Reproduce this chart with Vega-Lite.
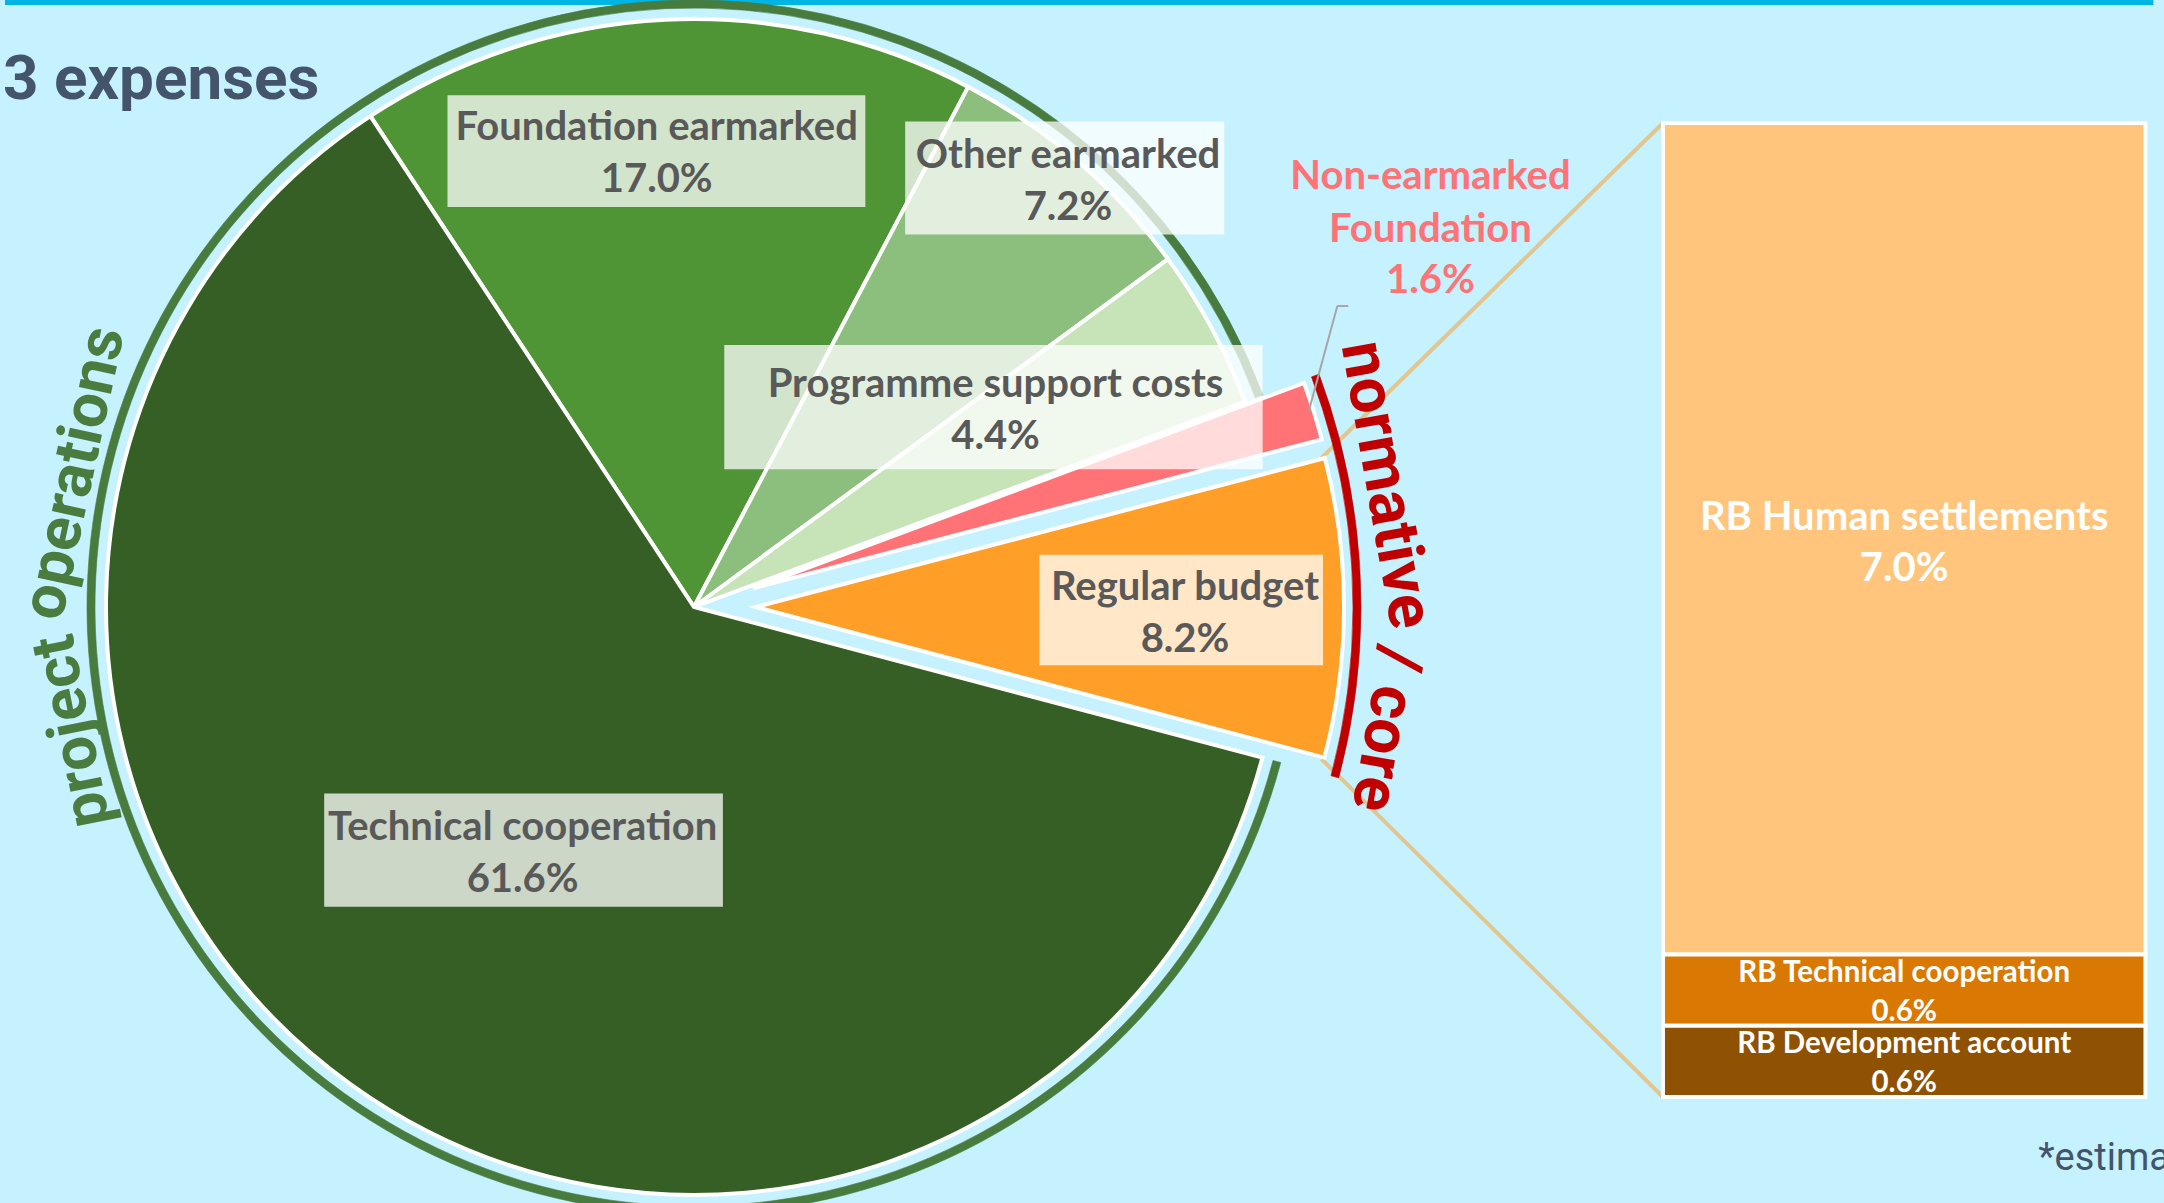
{
  "$schema": "https://vega.github.io/schema/vega-lite/v6.json",
  "width": 1388,
  "height": 1214,
  "autosize": {"type": "none"},
  "padding": {"left": 0, "top": 0, "right": 776, "bottom": -11},
  "background": "#C6F1FE",
  "config": {"view": {"stroke": null}},
  "datasets": {
    "slices": [
      {"category": "Foundation earmarked", "share": 0.170, "ord": 1, "group": "project operations"},
      {"category": "Other earmarked", "share": 0.072, "ord": 2, "group": "project operations"},
      {"category": "Programme support costs", "share": 0.044, "ord": 3, "group": "project operations"},
      {"category": "Non-earmarked Foundation", "share": 0.016, "ord": 4, "group": "normative / core"},
      {"category": "Regular budget", "share": 0.082, "ord": 5, "group": "normative / core"},
      {"category": "Technical cooperation", "share": 0.616, "ord": 6, "group": "project operations"}
    ],
    "rb": [
      {"part": "RB Human settlements", "share": 0.070, "ord": 3},
      {"part": "RB Technical cooperation", "share": 0.006, "ord": 2},
      {"part": "RB Development account", "share": 0.006, "ord": 1}
    ]
  },
  "layer": [
    {"data": {"values": [{}]}, "mark": {"type": "rule", "stroke": "#00B4E4", "strokeWidth": 5},
     "encoding": {"x": {"datum": -3.43621, "type": "quantitative", "scale": {"domain": [-3.43621, -0.58024], "nice": false, "zero": false}, "axis": null}, "x2": {"datum": 1.01646}, "y": {"datum": 0.092145, "type": "quantitative", "scale": {"domain": [-0.0098501, 0.092355], "nice": false, "zero": false}, "axis": null}}},
    {"data": {"values": [{}]}, "mark": {"type": "rule", "stroke": "#E2C690", "strokeWidth": 4},
     "encoding": {"x": {"datum": 0, "type": "quantitative", "axis": null}, "y": {"datum": 0.082, "type": "quantitative", "axis": null}, "x2": {"datum": -0.70782}, "y2": {"datum": 0.053797}}},
    {"data": {"values": [{}]}, "mark": {"type": "rule", "stroke": "#E2C690", "strokeWidth": 4},
     "encoding": {"x": {"datum": 0, "type": "quantitative", "axis": null}, "y": {"datum": 0, "type": "quantitative", "axis": null}, "x2": {"datum": -0.70782}, "y2": {"datum": 0.028456}}},
    {"data": {"name": "slices"}, "mark": {"type": "arc", "radius": 588, "stroke": "white", "strokeWidth": 4},
     "encoding": {
       "theta": {"field": "share", "type": "quantitative", "stack": true, "scale": {"range": [-0.5829, 5.7003]}},
       "order": {"field": "ord", "type": "quantitative"},
       "color": {"field": "category", "type": "nominal", "legend": null, "scale": {"domain": ["Foundation earmarked", "Other earmarked", "Programme support costs", "Non-earmarked Foundation", "Regular budget", "Technical cooperation", "RB Human settlements", "RB Technical cooperation", "RB Development account"], "range": ["#4F9535", "#8CBE7E", "#C6E4B8", "#FF7276", "#FF9F27", "#355F24", "#FFC57C", "#D97904", "#8F5102"]}},
       "opacity": {"condition": {"test": "datum.group === 'normative / core'", "value": 0}, "value": 1}
     }},
    {"data": {"name": "slices"}, "mark": {"type": "arc", "radius": 588, "stroke": "white", "strokeWidth": 4, "xOffset": 62, "yOffset": 0},
     "encoding": {
       "theta": {"field": "share", "type": "quantitative", "stack": true, "scale": {"range": [-0.5829, 5.7003]}},
       "order": {"field": "ord", "type": "quantitative"},
       "color": {"field": "category", "type": "nominal", "legend": null},
       "opacity": {"condition": {"test": "datum.category === 'Regular budget'", "value": 1}, "value": 0}
     }},
    {"data": {"name": "slices"}, "mark": {"type": "arc", "radius": 588, "stroke": "white", "strokeWidth": 4, "xOffset": 59.1, "yOffset": -18.7},
     "encoding": {
       "theta": {"field": "share", "type": "quantitative", "stack": true, "scale": {"range": [-0.5829, 5.7003]}},
       "order": {"field": "ord", "type": "quantitative"},
       "color": {"field": "category", "type": "nominal", "legend": null},
       "opacity": {"condition": {"test": "datum.category === 'Non-earmarked Foundation'", "value": 1}, "value": 0}
     }},
    {"data": {"name": "slices"}, "mark": {"type": "arc", "radius": 607, "radius2": 599, "fill": "#477C3E", "stroke": "#477C3E", "strokeWidth": 0.6},
     "encoding": {
       "theta": {"field": "share", "type": "quantitative", "stack": true, "scale": {"range": [-0.5829, 5.7003]}},
       "order": {"field": "ord", "type": "quantitative"},
       "opacity": {"condition": {"test": "datum.group === 'project operations'", "value": 1}, "value": 0}
     }},
    {"data": {"name": "slices"}, "mark": {"type": "arc", "radius": 667, "radius2": 659, "fill": "#C00000", "stroke": "#C00000", "strokeWidth": 0.6},
     "encoding": {
       "theta": {"field": "share", "type": "quantitative", "stack": true, "scale": {"range": [-0.5829, 5.7003]}},
       "order": {"field": "ord", "type": "quantitative"},
       "opacity": {"condition": {"test": "datum.group === 'normative / core'", "value": 1}, "value": 0}
     }},
    {"data": {"name": "rb"}, "mark": {"type": "bar", "orient": "vertical", "stroke": "white", "strokeWidth": 4},
     "encoding": {
       "x": {"datum": 0, "type": "quantitative", "axis": null}, "x2": {"datum": 1},
       "y": {"field": "share", "type": "quantitative", "stack": "zero", "axis": null},
       "order": {"field": "ord", "type": "quantitative"},
       "color": {"field": "part", "type": "nominal", "legend": null}
     }},
    {"data": {"values": [{}]}, "mark": {"type": "rule", "stroke": "#A6A6A6", "strokeWidth": 2},
     "encoding": {"x": {"datum": -0.73457, "type": "quantitative", "axis": null}, "y": {"datum": 0.057669, "type": "quantitative", "axis": null}, "x2": {"datum": -0.67490}, "y2": {"datum": 0.066593}}},
    {"data": {"values": [{}]}, "mark": {"type": "rule", "stroke": "#A6A6A6", "strokeWidth": 2},
     "encoding": {"x": {"datum": -0.67490, "type": "quantitative", "axis": null}, "x2": {"datum": -0.65226}, "y": {"datum": 0.066593, "type": "quantitative", "axis": null}}},

    {"data": {"values": [{}]}, "mark": {"type": "rect", "fill": "white", "opacity": 0.75},
     "encoding": {"x": {"datum": -2.51914, "type": "quantitative", "axis": null}, "x2": {"datum": -1.65309}, "y": {"datum": 0.084341, "type": "quantitative", "axis": null}, "y2": {"datum": 0.074928}}},
    {"data": {"values": [{}]}, "mark": {"type": "rect", "fill": "white", "opacity": 0.75},
     "encoding": {"x": {"datum": -1.57058, "type": "quantitative", "axis": null}, "x2": {"datum": -0.90905}, "y": {"datum": 0.082135, "type": "quantitative", "axis": null}, "y2": {"datum": 0.072604}}},
    {"data": {"values": [{}]}, "mark": {"type": "rect", "fill": "white", "opacity": 0.75},
     "encoding": {"x": {"datum": -1.94547, "type": "quantitative", "axis": null}, "x2": {"datum": -0.82963}, "y": {"datum": 0.063310, "type": "quantitative", "axis": null}, "y2": {"datum": 0.052854}}},
    {"data": {"values": [{}]}, "mark": {"type": "rect", "fill": "white", "opacity": 0.75},
     "encoding": {"x": {"datum": -1.29239, "type": "quantitative", "axis": null}, "x2": {"datum": -0.70453}, "y": {"datum": 0.045647, "type": "quantitative", "axis": null}, "y2": {"datum": 0.036353}}},
    {"data": {"values": [{}]}, "mark": {"type": "rect", "fill": "white", "opacity": 0.75},
     "encoding": {"x": {"datum": -2.77469, "type": "quantitative", "axis": null}, "x2": {"datum": -1.94835}, "y": {"datum": 0.025551, "type": "quantitative", "axis": null}, "y2": {"datum": 0.016021}}},

    {"data": {"name": "slices"}, "mark": {"type": "text", "radius": 457.5, "dx": -15, "dy": -22, "font": "Lato", "fontWeight": "bold", "fontSize": 40, "fill": "#595959", "align": "center", "baseline": "middle"},
     "encoding": {"theta": {"field": "share", "type": "quantitative", "stack": true}, "order": {"field": "ord", "type": "quantitative"},
       "text": {"condition": {"test": "datum.category === 'Foundation earmarked'", "field": "category", "type": "nominal"}, "value": ""}}},
    {"data": {"name": "slices"}, "mark": {"type": "text", "radius": 457.5, "dx": -15, "dy": 30, "font": "Lato", "fontWeight": "bold", "fontSize": 40, "fill": "#595959", "align": "center", "baseline": "middle"},
     "encoding": {"theta": {"field": "share", "type": "quantitative", "stack": true}, "order": {"field": "ord", "type": "quantitative"},
       "text": {"condition": {"test": "datum.category === 'Foundation earmarked'", "field": "share", "type": "quantitative", "format": ".1%"}, "value": ""}}},
    {"data": {"name": "slices"}, "mark": {"type": "text", "radius": 569, "dx": 2.5, "dy": -20, "font": "Lato", "fontWeight": "bold", "fontSize": 40, "fill": "#595959", "align": "center", "baseline": "middle"},
     "encoding": {"theta": {"field": "share", "type": "quantitative", "stack": true}, "order": {"field": "ord", "type": "quantitative"},
       "text": {"condition": {"test": "datum.category === 'Other earmarked'", "field": "category", "type": "nominal"}, "value": ""}}},
    {"data": {"name": "slices"}, "mark": {"type": "text", "radius": 569, "dx": 2.5, "dy": 32, "font": "Lato", "fontWeight": "bold", "fontSize": 40, "fill": "#595959", "align": "center", "baseline": "middle"},
     "encoding": {"theta": {"field": "share", "type": "quantitative", "stack": true}, "order": {"field": "ord", "type": "quantitative"},
       "text": {"condition": {"test": "datum.category === 'Other earmarked'", "field": "share", "type": "quantitative", "format": ".1%"}, "value": ""}}},
    {"data": {"name": "slices"}, "mark": {"type": "text", "radius": 362, "dx": -17, "dy": -50, "font": "Lato", "fontWeight": "bold", "fontSize": 40, "fill": "#595959", "align": "center", "baseline": "middle"},
     "encoding": {"theta": {"field": "share", "type": "quantitative", "stack": true}, "order": {"field": "ord", "type": "quantitative"},
       "text": {"condition": {"test": "datum.category === 'Programme support costs'", "field": "category", "type": "nominal"}, "value": ""}}},
    {"data": {"name": "slices"}, "mark": {"type": "text", "radius": 362, "dx": -17, "dy": 2, "font": "Lato", "fontWeight": "bold", "fontSize": 40, "fill": "#595959", "align": "center", "baseline": "middle"},
     "encoding": {"theta": {"field": "share", "type": "quantitative", "stack": true}, "order": {"field": "ord", "type": "quantitative"},
       "text": {"condition": {"test": "datum.category === 'Programme support costs'", "field": "share", "type": "quantitative", "format": ".1%"}, "value": ""}}},
    {"data": {"name": "slices"}, "mark": {"type": "text", "radius": 491, "dx": 0, "dy": -20, "font": "Lato", "fontWeight": "bold", "fontSize": 40, "fill": "#595959", "align": "center", "baseline": "middle"},
     "encoding": {"theta": {"field": "share", "type": "quantitative", "stack": true}, "order": {"field": "ord", "type": "quantitative"},
       "text": {"condition": {"test": "datum.category === 'Regular budget'", "field": "category", "type": "nominal"}, "value": ""}}},
    {"data": {"name": "slices"}, "mark": {"type": "text", "radius": 491, "dx": 0, "dy": 32, "font": "Lato", "fontWeight": "bold", "fontSize": 40, "fill": "#595959", "align": "center", "baseline": "middle"},
     "encoding": {"theta": {"field": "share", "type": "quantitative", "stack": true}, "order": {"field": "ord", "type": "quantitative"},
       "text": {"condition": {"test": "datum.category === 'Regular budget'", "field": "share", "type": "quantitative", "format": ".1%"}, "value": ""}}},
    {"data": {"name": "slices"}, "mark": {"type": "text", "radius": 297, "dx": 2, "dy": -20, "font": "Lato", "fontWeight": "bold", "fontSize": 40, "fill": "#595959", "align": "center", "baseline": "middle"},
     "encoding": {"theta": {"field": "share", "type": "quantitative", "stack": true}, "order": {"field": "ord", "type": "quantitative"},
       "text": {"condition": {"test": "datum.category === 'Technical cooperation'", "field": "category", "type": "nominal"}, "value": ""}}},
    {"data": {"name": "slices"}, "mark": {"type": "text", "radius": 297, "dx": 2, "dy": 32, "font": "Lato", "fontWeight": "bold", "fontSize": 40, "fill": "#595959", "align": "center", "baseline": "middle"},
     "encoding": {"theta": {"field": "share", "type": "quantitative", "stack": true}, "order": {"field": "ord", "type": "quantitative"},
       "text": {"condition": {"test": "datum.category === 'Technical cooperation'", "field": "share", "type": "quantitative", "format": ".1%"}, "value": ""}}},
    {"data": {"name": "slices"}, "mark": {"type": "text", "radius": 828, "dx": -53, "dy": -180, "font": "Lato", "fontWeight": "bold", "fontSize": 40, "fill": "#FF7276", "align": "center", "baseline": "middle", "lineBreak": " ", "lineHeight": 53},
     "encoding": {"theta": {"field": "share", "type": "quantitative", "stack": true}, "order": {"field": "ord", "type": "quantitative"},
       "text": {"condition": {"test": "datum.category === 'Non-earmarked Foundation'", "field": "category", "type": "nominal"}, "value": ""}}},
    {"data": {"name": "slices"}, "mark": {"type": "text", "radius": 828, "dx": -53, "dy": -76, "font": "Lato", "fontWeight": "bold", "fontSize": 40, "fill": "#FF7276", "align": "center", "baseline": "middle"},
     "encoding": {"theta": {"field": "share", "type": "quantitative", "stack": true}, "order": {"field": "ord", "type": "quantitative"},
       "text": {"condition": {"test": "datum.category === 'Non-earmarked Foundation'", "field": "share", "type": "quantitative", "format": ".1%"}, "value": ""}}},

    {"data": {"values": [{}]}, "mark": {"type": "text", "text": "project", "theta": 4.51517, "radius": 634, "angle": 258.7, "font": "Roboto", "fontWeight": "bold", "fontSize": 62, "fill": "#4A7C3F", "align": "center", "baseline": "middle"}, "encoding": {}},
    {"data": {"values": [{}]}, "mark": {"type": "text", "text": "operations", "theta": 4.92532, "radius": 634, "angle": 282.2, "font": "Roboto", "fontWeight": "bold", "fontSize": 62, "fill": "#4A7C3F", "align": "center", "baseline": "middle"}, "encoding": {}},
    {"data": {"values": [{}]}, "mark": {"type": "text", "text": "normative", "theta": 1.39626, "radius": 702, "angle": 80, "font": "Roboto", "fontWeight": "bold", "fontSize": 64, "fill": "#C00000", "align": "center", "baseline": "middle"}, "encoding": {}},
    {"data": {"values": [{}]}, "mark": {"type": "text", "text": "/ core", "theta": 1.74533, "radius": 702, "angle": 100, "font": "Roboto", "fontWeight": "bold", "fontSize": 64, "fill": "#C00000", "align": "center", "baseline": "middle"}, "encoding": {}},

    {"data": {"name": "rb"}, "mark": {"type": "text", "font": "Lato", "fontWeight": "bold", "fontSize": 40, "fill": "white", "dy": -21, "align": "center", "baseline": "middle"},
     "encoding": {"x": {"datum": 0.5, "type": "quantitative", "axis": null}, "y": {"field": "share", "type": "quantitative", "stack": "zero", "bandPosition": 0.5, "axis": null}, "order": {"field": "ord", "type": "quantitative"},
       "text": {"condition": {"test": "datum.part === 'RB Human settlements'", "field": "part", "type": "nominal"}, "value": ""}}},
    {"data": {"name": "rb"}, "mark": {"type": "text", "font": "Lato", "fontWeight": "bold", "fontSize": 40, "fill": "white", "dy": 30, "align": "center", "baseline": "middle"},
     "encoding": {"x": {"datum": 0.5, "type": "quantitative", "axis": null}, "y": {"field": "share", "type": "quantitative", "stack": "zero", "bandPosition": 0.5, "axis": null}, "order": {"field": "ord", "type": "quantitative"},
       "text": {"condition": {"test": "datum.part === 'RB Human settlements'", "field": "share", "type": "quantitative", "format": ".1%"}, "value": ""}}},
    {"data": {"name": "rb"}, "mark": {"type": "text", "font": "Lato", "fontWeight": "bold", "fontSize": 29.5, "fill": "white", "dy": -17, "align": "center", "baseline": "middle"},
     "encoding": {"x": {"datum": 0.5, "type": "quantitative", "axis": null}, "y": {"field": "share", "type": "quantitative", "stack": "zero", "bandPosition": 0.5, "axis": null}, "order": {"field": "ord", "type": "quantitative"},
       "text": {"condition": {"test": "datum.part !== 'RB Human settlements'", "field": "part", "type": "nominal"}, "value": ""}}},
    {"data": {"name": "rb"}, "mark": {"type": "text", "font": "Lato", "fontWeight": "bold", "fontSize": 29.5, "fill": "white", "dy": 22, "align": "center", "baseline": "middle"},
     "encoding": {"x": {"datum": 0.5, "type": "quantitative", "axis": null}, "y": {"field": "share", "type": "quantitative", "stack": "zero", "bandPosition": 0.5, "axis": null}, "order": {"field": "ord", "type": "quantitative"},
       "text": {"condition": {"test": "datum.part !== 'RB Human settlements'", "field": "share", "type": "quantitative", "format": ".1%"}, "value": ""}}},

    {"data": {"values": [{}]}, "mark": {"type": "text", "text": "3 expenses", "font": "Roboto", "fontSize": 62, "fontWeight": "bold", "fill": "#44546A", "align": "left", "baseline": "alphabetic"},
     "encoding": {"x": {"datum": -3.44033, "type": "quantitative", "axis": null}, "y": {"datum": 0.084021, "type": "quantitative", "axis": null}}},
    {"data": {"values": [{}]}, "mark": {"type": "text", "text": "*estimate", "font": "Roboto", "fontSize": 38, "fill": "#44546A", "align": "left", "baseline": "alphabetic"},
     "encoding": {"x": {"datum": 0.77778, "type": "quantitative", "axis": null}, "y": {"datum": -0.0061458, "type": "quantitative", "axis": null}}}
  ]
}
